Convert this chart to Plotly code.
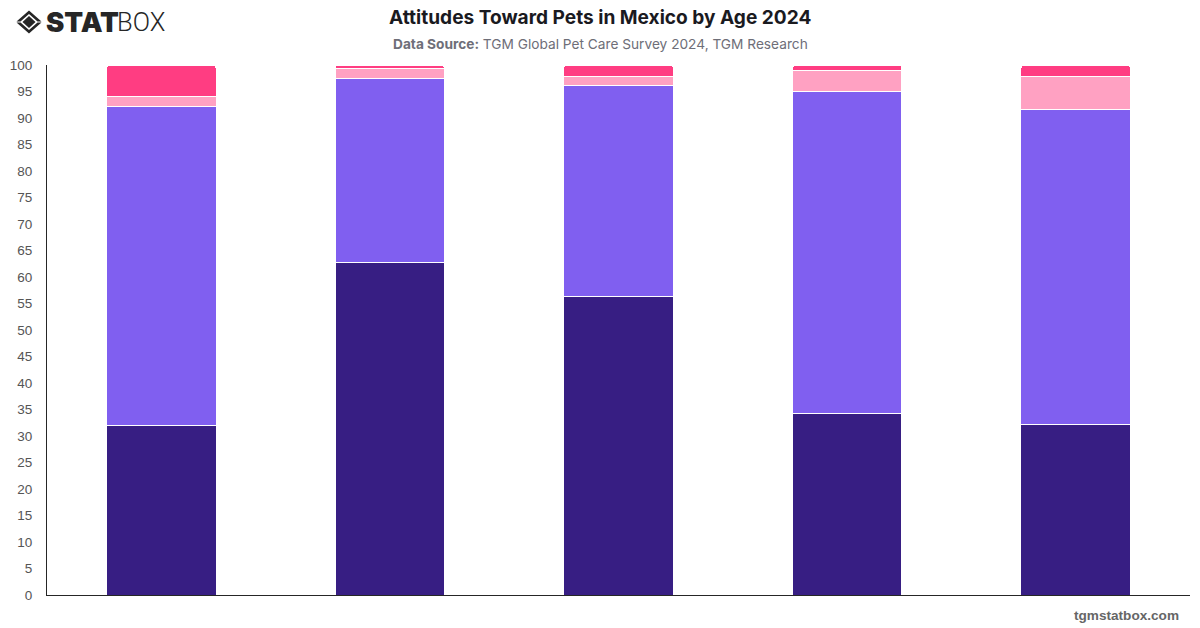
import plotly.graph_objects as go

W, H = 1200, 628

# Survey results: share of respondents per age group, bottom segment first
age_groups = ["18-24", "25-34", "35-44", "45-54", "55+"]
strongly_positive = [31.95, 62.75, 56.35, 34.25, 32.15]
positive = [60.2, 34.75, 39.75, 60.75, 59.45]
neutral = [1.9, 1.9, 1.8, 4.0, 6.2]
negative = [5.95, 0.6, 2.1, 1.0, 2.2]

series = [
    ("Strongly positive", strongly_positive, "#371E83"),
    ("Positive", positive, "#805FF0"),
    ("Neutral", neutral, "#FFA1C2"),
    ("Negative", negative, "#FF3D82"),
]
y_ticks = list(range(0, 101, 5))

PLOT_LEFT, PLOT_RIGHT, PLOT_TOP, PLOT_BOTTOM = 47, 1190, 65, 595.5


# Page pixels to paper coordinates, which are relative to the plot area
def px(x):
    return (x - PLOT_LEFT) / (PLOT_RIGHT - PLOT_LEFT)


def py(y):
    return (PLOT_BOTTOM - y) / (PLOT_BOTTOM - PLOT_TOP)


fig = go.Figure()
for name, values, color in series:
    fig.add_bar(
        name=name,
        x=age_groups,
        y=values,
        marker=dict(color=color, line=dict(color="#FFFFFF", width=1)),
    )


def path(points):
    return "M " + " L ".join(f"{px(x):.5f},{py(y):.5f}" for x, y in points) + " Z"


# Brand mark: a solid diamond inside a broken diamond outline
ink = "#262626"
brand_shapes = [
    dict(type="path", xref="paper", yref="paper", line_width=0, fillcolor=ink, path=p)
    for p in [
        path([(29, 16), (35.5, 22), (29, 28), (22.5, 22)]),
        path([(29, 10.5), (41.5, 21.5), (37.5, 21.5), (29, 14), (20.5, 21.5), (16.5, 21.5)]),
        path([(16.5, 22.5), (20.5, 22.5), (29, 30), (37.5, 22.5), (41.5, 22.5), (29, 33.5)]),
    ]
]


def label(text, x, y, size, color, family, anchor="center", weight=None):
    font = dict(size=size, color=color, family=family)
    if weight:
        font["weight"] = weight
    return dict(
        text=text, x=px(x), y=py(y), xref="paper", yref="paper",
        xanchor=anchor, yanchor="middle", showarrow=False, font=font,
    )


annotations = [
    label("<b>Attitudes Toward Pets in Mexico by Age 2024</b>", 600, 17, 19.1, "#1A1A1F", "Inter"),
    label("<b>Data Source:</b> TGM Global Pet Care Survey 2024, TGM Research", 600, 43.5, 13.7, "#6E6E78", "Inter"),
    label("<b>tgmstatbox.com</b>", 1180.5, 616.5, 13.6, "#666666", "Liberation Sans", "right"),
    label("STAT", 44, 22, 27.5, ink, "Inter", "left", 900),
    label("BOX", 115, 22, 25.5, ink, "Roboto", "left", 300),
]

fig.update_layout(
    width=W,
    height=H,
    barmode="stack",
    bargap=0.52,
    barcornerradius=4,
    showlegend=False,
    paper_bgcolor="#FFFFFF",
    plot_bgcolor="#FFFFFF",
    margin=dict(l=PLOT_LEFT, r=W - PLOT_RIGHT, t=PLOT_TOP, b=H - PLOT_BOTTOM, autoexpand=False),
    font=dict(family="Liberation Sans", size=13, color="#555555"),
    shapes=brand_shapes,
    annotations=annotations,
    xaxis=dict(showticklabels=False, ticks="", showgrid=False, zeroline=False,
               showline=True, linecolor="#262626", linewidth=1),
    yaxis=dict(range=[0, 100], tickvals=y_ticks, ticks="", showgrid=False, zeroline=False,
               showline=True, linecolor="#262626", linewidth=1, ticklabelstandoff=11,
               tickfont=dict(size=13.5, color="#555555")),
)

fig.write_html("out.html", config={"displayModeBar": False})
